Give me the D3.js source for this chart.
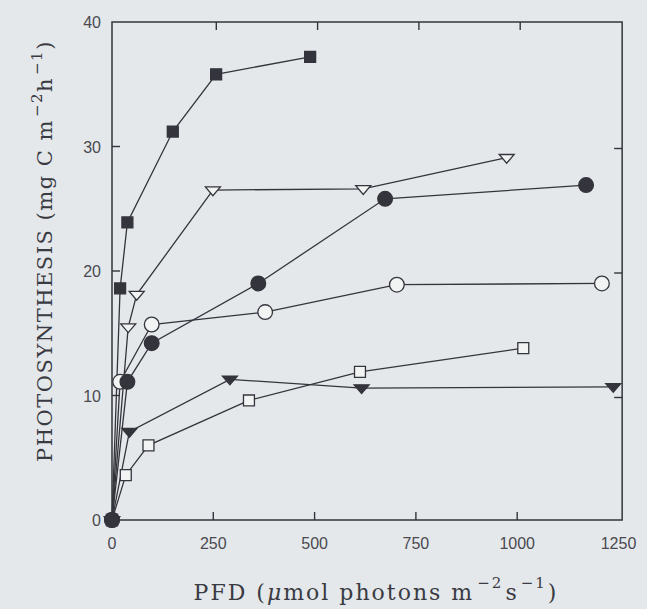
<!DOCTYPE html>
<html>
<head>
<meta charset="utf-8">
<script src="https://cdn.jsdelivr.net/npm/d3@7"></script>
<style>
  html, body { margin: 0; padding: 0; background: #e4e8eb; }
  #chart { width: 647px; height: 609px; }
</style>
</head>
<body>
<div id="chart"></div>
<script>
// DATA
const xTicks = [0, 250, 500, 750, 1000, 1250];
const yTicks = [0, 10, 20, 30, 40];

const filledSquareX = [0, 20, 38, 150, 257, 489];
const filledSquareY = [0, 18.6, 23.9, 31.2, 35.8, 37.2];

const openTriangleX = [0, 40, 61, 249, 620, 974];
const openTriangleY = [0, 15.5, 18.1, 26.5, 26.6, 29.1];

const filledCircleX = [0, 38, 98, 361, 674, 1170];
const filledCircleY = [0, 11.1, 14.2, 19.0, 25.8, 26.9];

const openCircleX = [0, 20, 98, 378, 703, 1209];
const openCircleY = [0, 11.1, 15.7, 16.7, 18.9, 19.0];

const filledTriangleX = [0, 43, 291, 616, 1237];
const filledTriangleY = [0, 7.1, 11.3, 10.6, 10.7];

const openSquareX = [0, 34, 90, 338, 612, 1015];
const openSquareY = [0, 3.6, 6.0, 9.6, 11.9, 13.8];

const width = 647;
const height = 609;
const ink = "#34343c";
const paper = "#f2f3f3";

const svg = d3.select("#chart")
  .append("svg")
  .attr("width", width)
  .attr("height", height);

const x = d3.scaleLinear().domain([0, 1250]).range([112, 618.5]);
const y = d3.scaleLinear().domain([0, 40]).range([520, 22]);

// FRAME
const x0 = x(0), x1 = x(1259), y0 = y(0), y1 = y(40);
svg.append("rect")
  .attr("x", x0).attr("y", y1)
  .attr("width", x1 - x0).attr("height", y0 - y1)
  .attr("fill", "none")
  .attr("stroke", ink)
  .attr("stroke-width", 1.5);

// inward ticks on all four sides
const tickLen = 8;
const innerX = xTicks.filter(d => d > 0 && d < 1250);
const innerY = yTicks.filter(d => d > 0 && d < 40);

svg.append("g").selectAll("line")
  .data(innerX).enter().append("line")
  .attr("x1", d => x(d)).attr("x2", d => x(d))
  .attr("y1", y0).attr("y2", y0 - tickLen)
  .attr("stroke", ink).attr("stroke-width", 1.4);
svg.append("g").selectAll("line")
  .data(innerX).enter().append("line")
  .attr("x1", d => x(d) + 3).attr("x2", d => x(d) + 3)
  .attr("y1", y1).attr("y2", y1 + tickLen)
  .attr("stroke", ink).attr("stroke-width", 1.4);
svg.append("g").selectAll("line")
  .data(innerY).enter().append("line")
  .attr("x1", x0).attr("x2", x0 + tickLen)
  .attr("y1", d => y(d)).attr("y2", d => y(d))
  .attr("stroke", ink).attr("stroke-width", 1.4);
svg.append("g").selectAll("line")
  .data(innerY).enter().append("line")
  .attr("x1", x1).attr("x2", x1 - tickLen)
  .attr("y1", d => y(d) + 2).attr("y2", d => y(d) + 2)
  .attr("stroke", ink).attr("stroke-width", 1.4);

// TICK LABELS
svg.append("g").selectAll("text")
  .data(xTicks).enter().append("text")
  .attr("x", d => x(d))
  .attr("y", 549)
  .attr("text-anchor", "middle")
  .style("font-family", "'Liberation Sans', Arial, sans-serif")
  .style("font-size", "16px")
  .style("fill", "#4a4a50")
  .text(d => d);

svg.append("g").selectAll("text")
  .data(yTicks).enter().append("text")
  .attr("x", 101)
  .attr("y", d => y(d) + 6)
  .attr("text-anchor", "end")
  .style("font-family", "'Liberation Sans', Arial, sans-serif")
  .style("font-size", "16px")
  .style("fill", "#4a4a50")
  .text(d => d);

// flat, point-down triangle like the plotter symbol
const downTriangle = {
  draw(ctx, size) {
    const w = Math.sqrt(size) * 0.75, h = w * 0.78;
    ctx.moveTo(-w, -h * 0.55);
    ctx.lineTo(w, -h * 0.55);
    ctx.lineTo(0, h * 0.95);
    ctx.closePath();
  }
};

// SERIES (open ones first so the filled ones sit on top at the origin)
const series = [
  { xs: openSquareX, ys: openSquareY, shape: d3.symbolSquare, size: 120, fill: paper },
  { xs: openCircleX, ys: openCircleY, shape: d3.symbolCircle, size: 170, fill: paper },
  { xs: openTriangleX, ys: openTriangleY, shape: downTriangle, size: 100, fill: paper },
  { xs: filledTriangleX, ys: filledTriangleY, shape: downTriangle, size: 100, fill: ink },
  { xs: filledCircleX, ys: filledCircleY, shape: d3.symbolCircle, size: 170, fill: ink },
  { xs: filledSquareX, ys: filledSquareY, shape: d3.symbolSquare, size: 120, fill: ink }
];

const line = d3.line().x(d => x(d[0])).y(d => y(d[1]));

series.forEach(s => {
  const pts = s.xs.map((v, i) => [v, s.ys[i]]);
  svg.append("path")
    .attr("d", line(pts))
    .attr("fill", "none")
    .attr("stroke", ink)
    .attr("stroke-width", 1.3);
});

series.forEach(s => {
  const pts = s.xs.map((v, i) => [v, s.ys[i]]);
  svg.append("g").selectAll("path")
    .data(pts).enter().append("path")
    .attr("d", d3.symbol().type(s.shape).size(s.size))
    .attr("transform", d => `translate(${x(d[0])},${y(d[1])})`)
    .attr("fill", s.fill)
    .attr("stroke", ink)
    .attr("stroke-width", 1.3);
});

// AXIS TITLES
const serif = "'DejaVu Serif', serif";

const yTitle = svg.append("text")
  .attr("transform", "translate(52,251) rotate(-90)")
  .attr("text-anchor", "middle")
  .style("font-family", serif)
  .style("font-size", "21px")
  .style("letter-spacing", "1.5px")
  .style("fill", "#3a3a42");
yTitle.append("tspan").text("PHOTOSYNTHESIS (mg C m");
yTitle.append("tspan").attr("dy", -10).attr("dx", 2).style("font-size", "15px").text("−2");
yTitle.append("tspan").attr("dy", 10).text("h");
yTitle.append("tspan").attr("dy", -10).attr("dx", 2).style("font-size", "15px").text("−1");
yTitle.append("tspan").attr("dy", 10).text(")");

const xTitle = svg.append("text")
  .attr("x", 376)
  .attr("y", 600)
  .attr("text-anchor", "middle")
  .style("font-family", serif)
  .style("font-size", "22px")
  .style("letter-spacing", "2px")
  .style("fill", "#3a3a42");
xTitle.append("tspan").text("PFD (");
xTitle.append("tspan").style("font-style", "italic").text("μ");
xTitle.append("tspan").text("mol photons m");
xTitle.append("tspan").attr("dy", -12).attr("dx", 3).style("font-size", "15px").text("−2");
xTitle.append("tspan").attr("dy", 12).attr("dx", 2).text("s");
xTitle.append("tspan").attr("dy", -12).attr("dx", 2).style("font-size", "15px").text("−1");
xTitle.append("tspan").attr("dy", 12).attr("dx", 1).text(")");
</script>
</body>
</html>
